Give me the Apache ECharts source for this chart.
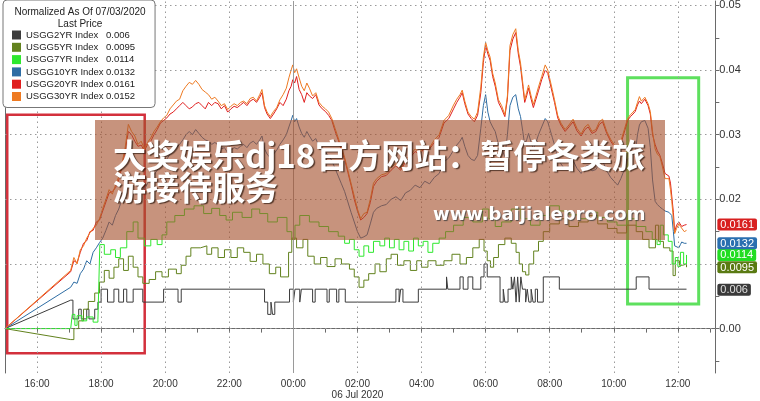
<!DOCTYPE html>
<html><head><meta charset="utf-8">
<script src="https://cdn.jsdelivr.net/npm/echarts@6/dist/echarts.min.js"></script>
<style>html,body{margin:0;padding:0;background:#fff}#c{width:760px;height:401px}</style>
</head><body><div id="c"></div>
<script>
// ---------- labels / categories ----------
const seriesNames = ['USGG2YR Index','USGG5YR Index','USGG7YR Index','USGG10YR Index','USGG20YR Index','USGG30YR Index'];
const lastPrices  = ['0.006','0.0095','0.0114','0.0132','0.0161','0.0152'];
const seriesColors = ['#3c3c3c','#62821e','#2ee82e','#2e6da4','#e01e1e','#ee7a22'];
const xLabelHours = [16,18,20,22,24,26,28,30,32,34,36];
const xTickHours  = [15,16,17,18,19,20,21,22,23,24,25,26,27,28,29,30,31,32,33,34,35,36,37];
const xGridHours  = [16,18,20,22,26,28,30,32,34,36];
const midnightHour = 24;
const yLabelValues = [0,0.02,0.03,0.04,0.05];
const yTickValues  = [-0.005,0,0.005,0.01,0.015,0.02,0.025,0.03,0.035,0.04,0.045,0.05];
const yGridValues  = [0,0.01,0.02,0.03,0.04,0.05];
const tagValues = [0.006,0.0095,0.0114,0.0132,0.0161];
const tagTexts  = ['0.006','0.0095','0.0114','0.0132','0.0161'];

// ---------- time (hours since 00:00 05 Jul) for 10y/20y/30y ----------
const tMain = [
15.00,17.05,17.15,17.25,17.35,17.45,17.55,17.65,17.75,17.85,
17.95,18.05,18.15,18.25,18.35,18.45,18.55,18.65,18.75,18.85,
18.95,19.05,19.15,19.25,19.35,19.45,19.55,19.65,19.75,19.85,
19.95,20.05,20.15,20.25,20.35,20.45,20.55,20.65,20.75,20.85,
20.95,21.05,21.15,21.25,21.35,21.45,21.55,21.65,21.75,21.85,
21.95,22.05,22.15,22.25,22.35,22.45,22.55,22.65,22.75,22.85,
22.95,23.02,23.10,23.18,23.28,23.38,23.48,23.58,23.68,23.78,
23.86,23.93,23.98,24.04,24.10,24.18,24.26,24.34,24.42,24.50,
24.60,24.70,24.80,24.90,25.00,25.10,25.20,25.30,25.40,25.50,
25.60,25.70,25.80,25.90,26.00,26.10,26.20,26.30,26.40,26.50,
26.60,26.75,26.90,27.05,27.20,27.35,27.50,27.65,27.80,27.95,
28.10,28.25,28.40,28.55,28.70,28.85,29.00,29.10,29.20,29.27,
29.35,29.45,29.55,29.65,29.75,29.85,29.93,30.00,30.07,30.14,
30.22,30.30,30.40,30.50,30.60,30.68,30.76,30.85,30.94,31.02,
31.09,31.16,31.22,31.28,31.34,31.42,31.49,31.57,31.65,31.75,
31.86,31.94,32.00,32.08,32.15,32.25,32.35,32.48,32.60,32.73,
32.85,32.98,33.10,33.20,33.32,33.44,33.55,33.65,33.78,33.90,
34.01,34.12,34.22,34.33,34.43,34.52,34.60,34.67,34.74,34.80,
34.86,34.92,34.97,35.01,35.07,35.14,35.21,35.29,35.36,35.44,
35.52,35.60,35.66,35.72,35.77,35.81,35.86,35.90,35.96,36.03,
36.08,36.12,36.20,36.27];

const v30 = [
0,.0090,.0110,.0100,.0122,.0128,.0140,.0148,.0155,.0160,
.0170,.0186,.0200,.0215,.0208,.0222,.0235,.0255,.0280,.0316,
.0305,.0298,.0285,.0290,.0278,.0288,.0295,.0305,.0312,.0320,
.0326,.0330,.0340,.0346,.0352,.0355,.0368,.0375,.0381,.0378,
.0384,.0378,.0370,.0366,.0362,.0355,.0358,.0352,.0345,.0348,
.0339,.0344,.0348,.0345,.0350,.0352,.0348,.0356,.0358,.0352,
.0362,.0370,.0345,.0335,.0328,.0336,.0342,.0354,.0362,.0372,
.0388,.0400,.0408,.0396,.0402,.0388,.0375,.0368,.0380,.0372,
.0360,.0365,.0350,.0344,.0340,.0335,.0325,.0310,.0295,.0280,
.0265,.0245,.0225,.0205,.0185,.0170,.0178,.0180,.0200,.0225,
.0232,.0238,.0240,.0250,.0255,.0248,.0262,.0268,.0278,.0272,
.0285,.0280,.0292,.0300,.0322,.0330,.0346,.0355,.0362,.0369,
.0352,.0335,.0328,.0324,.0335,.0374,.0420,.0443,.0430,.0420,
.0395,.0380,.0354,.0345,.0331,.0360,.0438,.0455,.0464,.0430,
.0411,.0380,.0354,.0365,.0377,.0360,.0347,.0360,.0374,.0390,
.0408,.0400,.0397,.0370,.0354,.0330,.0318,.0308,.0315,.0324,
.0310,.0301,.0312,.0316,.0305,.0308,.0320,.0324,.0305,.0293,
.0285,.0278,.0290,.0308,.0325,.0331,.0335,.0339,.0350,.0359,
.0352,.0353,.0358,.0360,.0348,.0336,.0305,.0278,.0270,.0266,
.0250,.0232,.0235,.0232,.0215,.0197,.0170,.0147,.0155,.0162,
.0158,.0157,.0150,.0152];

const v20 = [
0,.0088,.0105,.0102,.0118,.0132,.0136,.0150,.0152,.0165,
.0168,.0182,.0196,.0210,.0212,.0218,.0230,.0250,.0275,.0305,
.0300,.0290,.0282,.0284,.0275,.0285,.0290,.0300,.0308,.0318,
.0322,.0326,.0332,.0335,.0340,.0345,.0350,.0345,.0340,.0343,
.0348,.0350,.0345,.0340,.0350,.0345,.0350,.0348,.0340,.0345,
.0335,.0340,.0344,.0342,.0346,.0350,.0345,.0352,.0355,.0350,
.0358,.0365,.0342,.0332,.0325,.0332,.0340,.0350,.0345,.0355,
.0368,.0375,.0385,.0380,.0390,.0370,.0362,.0350,.0365,.0360,
.0356,.0362,.0346,.0340,.0336,.0330,.0322,.0306,.0292,.0276,
.0262,.0242,.0222,.0200,.0182,.0168,.0172,.0178,.0195,.0220,
.0228,.0235,.0237,.0245,.0252,.0245,.0258,.0265,.0274,.0270,
.0280,.0278,.0288,.0296,.0318,.0325,.0340,.0350,.0358,.0365,
.0348,.0332,.0325,.0320,.0330,.0365,.0412,.0438,.0425,.0415,
.0390,.0375,.0350,.0340,.0328,.0355,.0430,.0448,.0458,.0425,
.0405,.0375,.0350,.0360,.0372,.0355,.0342,.0355,.0368,.0385,
.0400,.0395,.0392,.0365,.0350,.0326,.0315,.0305,.0312,.0320,
.0306,.0298,.0308,.0312,.0302,.0305,.0316,.0320,.0302,.0290,
.0282,.0275,.0286,.0304,.0322,.0328,.0332,.0336,.0346,.0352,
.0348,.0350,.0355,.0356,.0345,.0332,.0300,.0285,.0275,.0268,
.0255,.0240,.0238,.0236,.0225,.0205,.0180,.0150,.0160,.0165,
.0162,.0158,.0160,.0161];

const v10 = [
0,.0064,.0072,.0070,.0085,.0092,.0105,.0100,.0118,.0125,
.0133,.0140,.0152,.0165,.0160,.0175,.0185,.0200,.0215,.0235,
.0230,.0225,.0220,.0222,.0215,.0225,.0232,.0238,.0245,.0252,
.0258,.0262,.0270,.0275,.0280,.0285,.0292,.0300,.0305,.0300,
.0308,.0302,.0296,.0292,.0290,.0285,.0288,.0284,.0278,.0280,
.0272,.0276,.0280,.0278,.0282,.0285,.0280,.0287,.0290,.0285,
.0292,.0298,.0278,.0270,.0264,.0270,.0276,.0285,.0292,.0300,
.0312,.0322,.0330,.0320,.0325,.0312,.0302,.0296,.0305,.0298,
.0290,.0294,.0282,.0276,.0272,.0268,.0260,.0248,.0236,.0224,
.0212,.0196,.0180,.0165,.0150,.0140,.0142,.0145,.0162,.0180,
.0186,.0190,.0192,.0200,.0204,.0198,.0210,.0214,.0222,.0218,
.0228,.0224,.0234,.0240,.0258,.0264,.0276,.0284,.0290,.0296,
.0282,.0268,.0262,.0260,.0268,.0310,.0345,.0362,.0335,.0320,
.0312,.0305,.0285,.0278,.0266,.0300,.0345,.0358,.0362,.0340,
.0328,.0305,.0284,.0292,.0302,.0288,.0278,.0288,.0300,.0312,
.0325,.0320,.0318,.0296,.0284,.0264,.0255,.0246,.0252,.0260,
.0248,.0240,.0250,.0253,.0244,.0246,.0256,.0260,.0244,.0234,
.0228,.0222,.0232,.0246,.0262,.0266,.0270,.0272,.0300,.0315,
.0320,.0318,.0322,.0325,.0310,.0280,.0230,.0197,.0192,.0188,
.0185,.0182,.0184,.0180,.0182,.0175,.0150,.0128,.0130,.0125,
.0130,.0134,.0132,.0132];

// ---------- step series: [hour, value] ----------
const s7 = [
[15.00,0],[17.05,0],[17.10,.0022],[17.18,.0005],[17.25,.0020],[17.40,.0012],[17.55,.0018],[17.75,.0010],[17.90,.0014],
[17.96,.0130],[18.10,.0115],[18.30,.0122],[18.45,.0110],[18.60,.0125],[18.80,.0150],[19.00,.0165],[19.15,.0140],
[19.35,.0128],[19.55,.0138],[19.75,.0130],[19.90,.0145],[20.05,.0165],[20.30,.0175],[20.60,.0185],[20.90,.0190],
[21.20,.0178],[21.45,.0186],[21.70,.0175],[21.90,.0168],[22.10,.0180],[22.40,.0172],[22.70,.0185],[22.95,.0178],
[23.20,.0165],[23.50,.0172],[23.80,.0150],[23.95,.0138],[24.05,.0160],[24.20,.0175],[24.50,.0165],[24.80,.0158],
[25.10,.0150],[25.40,.0143],[25.60,.0132],[25.75,.0138],[25.90,.0122],[26.05,.0112],[26.20,.0128],[26.35,.0118],
[26.50,.0135],[26.70,.0128],[26.85,.0140],[27.00,.0125],[27.15,.0138],[27.30,.0122],[27.45,.0135],[27.60,.0120],
[27.75,.0140],[27.90,.0128],[28.05,.0135],[28.20,.0118],[28.35,.0132],[28.55,.0140],[28.75,.0150],[29.00,.0160],
[29.30,.0172],[29.60,.0165],[29.90,.0185],[30.10,.0170],[30.30,.0158],[30.50,.0165],[30.80,.0185],[31.10,.0170],
[31.40,.0160],[31.70,.0175],[32.00,.0190],[32.30,.0182],[32.60,.0176],[32.90,.0170],[33.20,.0180],[33.50,.0172],
[33.80,.0165],[34.10,.0160],[34.40,.0170],[34.70,.0158],[35.00,.0150],[35.20,.0138],[35.35,.0130],[35.45,.0160],
[35.55,.0145],[35.70,.0135],[35.82,.0100],[35.92,.0110],[36.00,.0096],[36.08,.0118],[36.18,.0100],[36.27,.0114]];

const s5 = [
[15.00,0],[17.05,-.0017],[17.15,0],[17.30,.0012],[17.45,.0030],[17.60,.0042],[17.80,.0055],[17.95,.0072],[18.10,.0090],
[18.25,.0078],[18.40,.0095],[18.55,.0108],[18.70,.0090],[18.85,.0112],[19.00,.0095],[19.15,.0080],[19.30,.0070],
[19.50,.0076],[19.70,.0088],[19.90,.0080],[20.10,.0092],[20.35,.0085],[20.50,.0098],[20.65,.0112],[20.80,.0125],
[21.10,.0128],[21.30,.0115],[21.45,.0125],[21.65,.0110],[21.85,.0122],[22.05,.0110],[22.25,.0125],[22.45,.0118],
[22.65,.0104],[22.85,.0115],[23.05,.0100],[23.25,.0085],[23.45,.0095],[23.60,.0080],[23.85,.0118],[23.95,.0140],
[24.10,.0125],[24.30,.0138],[24.45,.0112],[24.65,.0100],[24.85,.0110],[25.05,.0096],[25.30,.0108],[25.50,.0100],
[25.75,.0092],[25.90,.0080],[26.05,.0064],[26.20,.0075],[26.35,.0085],[26.55,.0100],[26.70,.0088],[26.90,.0108],
[27.05,.0115],[27.25,.0098],[27.45,.0105],[27.65,.0090],[27.85,.0105],[28.00,.0095],[28.20,.0105],[28.45,.0098],
[28.70,.0105],[28.95,.0115],[29.20,.0100],[29.40,.0110],[29.60,.0125],[29.80,.0138],[29.95,.0120],[30.05,.0105],
[30.15,.0095],[30.25,.0110],[30.40,.0130],[30.60,.0140],[30.80,.0132],[30.95,.0118],[31.05,.0100],[31.15,.0088],
[31.25,.0083],[31.35,.0100],[31.50,.0120],[31.65,.0135],[31.80,.0150],[32.00,.0162],[32.30,.0170],[32.60,.0158],
[32.90,.0165],[33.20,.0175],[33.50,.0162],[33.80,.0155],[34.10,.0148],[34.40,.0160],[34.70,.0150],[34.90,.0138],
[35.10,.0125],[35.30,.0160],[35.40,.0135],[35.55,.0125],[35.75,.0120],[35.85,.0082],[35.92,.0105],[36.05,.0098],
[36.15,.0100],[36.27,.0095]];

const s2 = [
[15.00,0],[17.05,.0044],[17.12,.0015],[17.30,.0030],[17.38,.0015],[17.55,.0030],[17.62,.0015],[17.80,.0030],[17.90,.0041],
[18.00,.0061],[18.20,.0041],[18.40,.0061],[18.55,.0041],[18.70,.0061],[18.80,.0041],[19.00,.0061],[19.30,.0041],
[19.95,.0061],[20.40,.0041],[20.50,.0061],[23.10,.0041],[23.20,.0022],[23.30,.0041],[23.35,.0022],[23.42,.0041],
[23.88,.0061],[24.00,.0041],[24.05,.0061],[24.20,.0041],[24.25,.0061],[24.60,.0041],[24.68,.0061],[25.05,.0041],
[25.12,.0061],[25.35,.0041],[25.42,.0061],[25.62,.0041],[27.20,.0061],[27.30,.0041],[27.35,.0061],[27.42,.0041],
[27.90,.0061],[28.78,.0080],[28.82,.0061],[29.20,.0080],[29.30,.0061],[29.45,.0080],[29.60,.0061],[29.85,.0080],
[29.95,.0100],[30.05,.0080],[30.45,.0041],[30.55,.0061],[30.60,.0041],[30.70,.0061],[30.80,.0080],[30.85,.0061],
[30.90,.0080],[30.95,.0041],[31.00,.0080],[31.05,.0041],[31.10,.0080],[31.15,.0061],[31.25,.0041],[31.30,.0061],
[31.35,.0041],[31.42,.0061],[31.48,.0041],[31.55,.0061],[31.62,.0041],[31.80,.0080],[32.30,.0061],[34.70,.0080],
[35.10,.0061],[36.27,.0061]];

// annotation boxes in data units: [x1, y1, x2, y2]
const redBox   = [15.07, 0.0331, 19.36, -0.0038];
const greenBox = [34.43, 0.0388, 36.65, 0.0038];

// ---------- build ----------
const zip = (t, v) => t.map((x, i) => [x, v[i]]);
const lineSeries = (name, data, color, step) => ({
  name, type: 'line', data, step: step ? 'end' : false, showSymbol: false, symbol: 'none',
  lineStyle: { width: 1, color }, itemStyle: { color }, animation: false, silent: true, z: 3
});
const connector = (data, color) => ({
  name: '_c', type: 'line', data: data.slice(0, 2), showSymbol: false, symbol: 'none',
  lineStyle: { width: 1, color }, animation: false, silent: true, z: 3
});

const series = [
  {
    name: '_grid', type: 'line', data: [], silent: true, animation: false, z: 1,
    markLine: {
      silent: true, symbol: ['none', 'none'], animation: false, label: { show: false },
      lineStyle: { color: '#9a9a9a', type: [1.5, 3.5], width: 1 },
      data: yGridValues.map(v => ({ yAxis: v })).concat(xGridHours.map(h => ({ xAxis: h })))
        .concat([{ xAxis: midnightHour, lineStyle: { type: 'solid', color: '#9a9a9a', width: 1 } }])
    }
  },
  connector(s2, seriesColors[0]),
  lineSeries(seriesNames[0], s2.slice(1), seriesColors[0], true),
  connector(s5, seriesColors[1]),
  lineSeries(seriesNames[1], s5.slice(1), seriesColors[1], true),
  connector(s7, seriesColors[2]),
  lineSeries(seriesNames[2], s7.slice(1), seriesColors[2], true),
  lineSeries(seriesNames[3], zip(tMain, v10), seriesColors[3], false),
  lineSeries(seriesNames[4], zip(tMain, v20), seriesColors[4], false),
  lineSeries(seriesNames[5], zip(tMain, v30), seriesColors[5], false),
  {
    name: '_boxes', type: 'line', data: [], silent: true, animation: false, z: 6,
    markArea: {
      silent: true, animation: false, label: { show: false },
      data: [
        [{ xAxis: redBox[0], yAxis: redBox[1], itemStyle: { color: 'rgba(0,0,0,0)', borderColor: '#d3303c', borderWidth: 2.5 } },
         { xAxis: redBox[2], yAxis: redBox[3] }],
        [{ xAxis: greenBox[0], yAxis: greenBox[1], itemStyle: { color: 'rgba(0,0,0,0)', borderColor: '#5ee05e', borderWidth: 3 } },
         { xAxis: greenBox[2], yAxis: greenBox[3] }]
      ]
    }
  }
];

const tagColors = ['#3a3a3a', '#5a7a12', '#22dd22', '#2a6fb0', '#d82020'];
const tagRich = {};
tagColors.forEach((c, i) => {
  tagRich['t' + i] = { backgroundColor: c, color: i === 0 ? '#e0e0e0' : '#ffffff', fontSize: 11, lineHeight: 12,
    padding: [1, 3, 0, 3], borderRadius: 2, fontFamily: 'Liberation Sans' };
});

const legendRich = { n: { width: 80, fontSize: 9.5, fontFamily: 'Liberation Sans', color: '#222' },
                     v: { fontSize: 9.5, fontFamily: 'Liberation Sans', color: '#222' } };

const option = {
  backgroundColor: '#ffffff',
  animation: false,
  grid: { left: 5, right: 37, top: 0, bottom: 24, containLabel: false },
  title: {
    text: 'Normalized As Of 07/03/2020\nLast Price', left: 80, top: 6, textAlign: 'center',
    textStyle: { fontSize: 10, lineHeight: 12, fontWeight: 'normal', color: '#222', fontFamily: 'Liberation Sans', align: 'center' },
    padding: 0, z: 10
  },
  legend: {
    data: seriesNames, orient: 'vertical', left: 3, top: 0, padding: [29, 20, 5, 9], itemGap: 0.3,
    itemWidth: 9, itemHeight: 9, icon: 'rect', backgroundColor: '#ffffff', borderColor: '#777',
    borderWidth: 1, borderRadius: 4, selectedMode: false, z: 8,
    textStyle: { fontSize: 9.5, lineHeight: 12, rich: legendRich },
    formatter: name => `{n|${name}}{v|${lastPrices[seriesNames.indexOf(name)]}}`
  },
  xAxis: {
    type: 'value', min: 15, max: 37.17, position: 'bottom',
    axisLine: { show: true, lineStyle: { color: '#6a6a6a', width: 1 } },
    axisTick: { show: true, customValues: xTickHours, length: 4, lineStyle: { color: '#6a6a6a' } },
    axisLabel: {
      customValues: xLabelHours, margin: 6, color: '#333', fontSize: 10, lineHeight: 11,
      fontFamily: "'Liberation Sans Narrow','Liberation Sans'",
      formatter: h => {
        const hh = String(Math.round(h) % 24).padStart(2, '0') + ':00';
        return Math.round(h) === 26 ? hh + '\n06 Jul 2020' : hh;
      }
    },
    splitLine: { show: false }
  },
  yAxis: [
    {
      type: 'value', position: 'right', min: -0.00687, max: 0.05069,
      axisLine: { show: true, lineStyle: { color: '#6a6a6a', width: 1 } },
      axisTick: { show: true, customValues: yTickValues, length: 4, lineStyle: { color: '#6a6a6a' } },
      axisLabel: { customValues: yLabelValues, margin: 4, color: '#333', fontSize: 11, fontFamily: 'Liberation Sans',
        formatter: v => v.toFixed(2) },
      splitLine: { show: false }
    },
    {
      type: 'value', position: 'right', min: -0.00687, max: 0.05069,
      axisLine: { show: false }, axisTick: { show: false }, splitLine: { show: false },
      axisLabel: { customValues: tagValues, margin: 2, rich: tagRich,
        formatter: v => { const i = tagValues.findIndex(t => Math.abs(t - v) < 1e-7); return i < 0 ? '' : `{t${i}|${tagTexts[i]}}`; } }
    },
    {
      type: 'value', position: 'left', min: -0.00687, max: 0.05069,
      axisLine: { show: true, lineStyle: { color: '#6a6a6a', width: 1 } },
      axisTick: { show: false }, axisLabel: { show: false }, splitLine: { show: false }
    }
  ],
  graphic: [
    { type: 'rect', shape: { x: 95, y: 120, width: 570, height: 120 }, style: { fill: 'rgba(165,80,45,0.62)' }, z: 100, silent: true },
    { type: 'text', x: 113, y: 155, z: 101, silent: true,
      style: { text: '大奖娱乐dj18官方网站：暂停各类旅', font: 'bold 33px "Noto Sans CJK SC"', fill: '#ffffff',
        verticalAlign: 'middle', textShadowColor: 'rgba(40,20,10,0.7)', textShadowOffsetX: 1.5, textShadowOffsetY: 1.5, textShadowBlur: 1 } },
    { type: 'text', x: 113, y: 187, z: 101, silent: true,
      style: { text: '游接待服务', font: 'bold 33px "Noto Sans CJK SC"', fill: '#ffffff',
        verticalAlign: 'middle', textShadowColor: 'rgba(40,20,10,0.7)', textShadowOffsetX: 1.5, textShadowOffsetY: 1.5, textShadowBlur: 1 } },
    { type: 'text', x: 433, y: 215, z: 101, silent: true,
      style: { text: 'www.baijialepro.com', font: 'bold 18px "DejaVu Sans"', fill: '#ffffff',
        verticalAlign: 'middle', textShadowColor: 'rgba(60,60,60,0.8)', textShadowOffsetX: 1, textShadowOffsetY: 1, textShadowBlur: 1 } }
  ],
  series
};

echarts.init(document.getElementById('c'), null, { renderer: 'canvas' }).setOption(option);
</script>
</body></html>
